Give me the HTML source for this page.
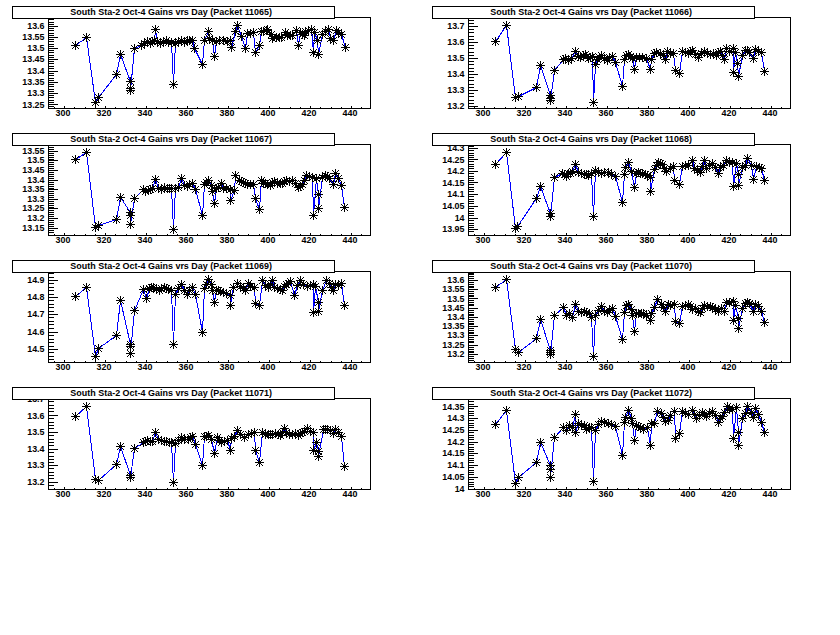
<!DOCTYPE html><html><head><meta charset="utf-8"><style>html,body{margin:0;padding:0;background:#fff;width:840px;height:635px;overflow:hidden}</style></head><body><svg width="840" height="635" viewBox="0 0 840 635" style="position:absolute;left:0;top:0"><rect x="0" y="0" width="840" height="635" fill="#fff"/><defs><g id="m"><path d="M-4 .5h9M.5 -4v9" stroke="#000" stroke-width="1" fill="none"/><path d="M-3 -3h1v1h-1zM-3 3h1v1h-1zM-2 -2h1v1h-1zM-2 2h1v1h-1zM-1 -1h1v1h-1zM-1 1h1v1h-1zM0 0h1v1h-1zM0 0h1v1h-1zM1 1h1v1h-1zM1 -1h1v1h-1zM2 2h1v1h-1zM2 -2h1v1h-1zM3 3h1v1h-1zM3 -3h1v1h-1z" fill="#000"/></g></defs><g shape-rendering="crispEdges"><polyline points="75.5,45.5 86.5,37.5 95.5,102.5 98.5,97.5 116.5,74.5 120.5,54.5 130.5,81.5 130.5,88.5 130.5,90.5 134.5,48.5 141.5,45.5 144.5,43.5 147.5,41.5 150.5,43.5 152.5,41.5 154.5,40.5 155.5,29.5 157.5,41.5 160.5,43.5 163.5,41.5 166.5,40.5 168.5,42.5 171.5,42.5 173.5,84.5 175.5,43.5 178.5,41.5 181.5,40.5 184.5,42.5 187.5,40.5 189.5,40.5 192.5,40.5 194.5,48.5 202.5,64.5 204.5,40.5 208.5,31.5 209.5,38.5 212.5,40.5 214.5,56.5 216.5,41.5 219.5,40.5 223.5,40.5 227.5,41.5 230.5,40.5 231.5,47.5 235.5,31.5 237.5,25.5 241.5,36.5 245.5,48.5 247.5,33.5 250.5,33.5 253.5,32.5 255.5,52.5 259.5,45.5 261.5,31.5 263.5,31.5 266.5,30.5 267.5,29.5 271.5,34.5 272.5,38.5 276.5,37.5 279.5,37.5 281.5,37.5 285.5,32.5 287.5,35.5 290.5,35.5 292.5,35.5 296.5,30.5 298.5,45.5 300.5,32.5 302.5,34.5 304.5,35.5 305.5,31.5 308.5,30.5 311.5,29.5 313.5,52.5 314.5,32.5 317.5,40.5 318.5,54.5 322.5,34.5 325.5,31.5 328.5,29.5 330.5,38.5 333.5,40.5 336.5,30.5 338.5,32.5 341.5,34.5 345.5,47.5" fill="none" stroke="#0000ff" stroke-width="1"/><use href="#m" x="75" y="45"/><use href="#m" x="86" y="37"/><use href="#m" x="95" y="102"/><use href="#m" x="98" y="97"/><use href="#m" x="116" y="74"/><use href="#m" x="120" y="54"/><use href="#m" x="130" y="81"/><use href="#m" x="130" y="88"/><use href="#m" x="130" y="90"/><use href="#m" x="134" y="48"/><use href="#m" x="141" y="45"/><use href="#m" x="144" y="43"/><use href="#m" x="147" y="41"/><use href="#m" x="150" y="43"/><use href="#m" x="152" y="41"/><use href="#m" x="154" y="40"/><use href="#m" x="155" y="29"/><use href="#m" x="157" y="41"/><use href="#m" x="160" y="43"/><use href="#m" x="163" y="41"/><use href="#m" x="166" y="40"/><use href="#m" x="168" y="42"/><use href="#m" x="171" y="42"/><use href="#m" x="173" y="84"/><use href="#m" x="175" y="43"/><use href="#m" x="178" y="41"/><use href="#m" x="181" y="40"/><use href="#m" x="184" y="42"/><use href="#m" x="187" y="40"/><use href="#m" x="189" y="40"/><use href="#m" x="192" y="40"/><use href="#m" x="194" y="48"/><use href="#m" x="202" y="64"/><use href="#m" x="204" y="40"/><use href="#m" x="208" y="31"/><use href="#m" x="209" y="38"/><use href="#m" x="212" y="40"/><use href="#m" x="214" y="56"/><use href="#m" x="216" y="41"/><use href="#m" x="219" y="40"/><use href="#m" x="223" y="40"/><use href="#m" x="227" y="41"/><use href="#m" x="230" y="40"/><use href="#m" x="231" y="47"/><use href="#m" x="235" y="31"/><use href="#m" x="237" y="25"/><use href="#m" x="241" y="36"/><use href="#m" x="245" y="48"/><use href="#m" x="247" y="33"/><use href="#m" x="250" y="33"/><use href="#m" x="253" y="32"/><use href="#m" x="255" y="52"/><use href="#m" x="259" y="45"/><use href="#m" x="261" y="31"/><use href="#m" x="263" y="31"/><use href="#m" x="266" y="30"/><use href="#m" x="267" y="29"/><use href="#m" x="271" y="34"/><use href="#m" x="272" y="38"/><use href="#m" x="276" y="37"/><use href="#m" x="279" y="37"/><use href="#m" x="281" y="37"/><use href="#m" x="285" y="32"/><use href="#m" x="287" y="35"/><use href="#m" x="290" y="35"/><use href="#m" x="292" y="35"/><use href="#m" x="296" y="30"/><use href="#m" x="298" y="45"/><use href="#m" x="300" y="32"/><use href="#m" x="302" y="34"/><use href="#m" x="304" y="35"/><use href="#m" x="305" y="31"/><use href="#m" x="308" y="30"/><use href="#m" x="311" y="29"/><use href="#m" x="313" y="52"/><use href="#m" x="314" y="32"/><use href="#m" x="317" y="40"/><use href="#m" x="318" y="54"/><use href="#m" x="322" y="34"/><use href="#m" x="325" y="31"/><use href="#m" x="328" y="29"/><use href="#m" x="330" y="38"/><use href="#m" x="333" y="40"/><use href="#m" x="336" y="30"/><use href="#m" x="338" y="32"/><use href="#m" x="341" y="34"/><use href="#m" x="345" y="47"/><rect x="48.5" y="17.5" width="322" height="91" fill="none" stroke="#000" stroke-width="1"/><rect x="49" y="26" width="9" height="1" fill="#000"/><text x="44.5" y="29.20" text-anchor="end" font-size="8.9" font-weight="bold" font-family='"Liberation Sans", sans-serif'>13.6</text><rect x="49" y="37" width="9" height="1" fill="#000"/><text x="44.5" y="40.30" text-anchor="end" font-size="8.9" font-weight="bold" font-family='"Liberation Sans", sans-serif'>13.55</text><rect x="49" y="48" width="9" height="1" fill="#000"/><text x="44.5" y="51.20" text-anchor="end" font-size="8.9" font-weight="bold" font-family='"Liberation Sans", sans-serif'>13.5</text><rect x="49" y="59" width="9" height="1" fill="#000"/><text x="44.5" y="62.40" text-anchor="end" font-size="8.9" font-weight="bold" font-family='"Liberation Sans", sans-serif'>13.45</text><rect x="49" y="71" width="9" height="1" fill="#000"/><text x="44.5" y="74.40" text-anchor="end" font-size="8.9" font-weight="bold" font-family='"Liberation Sans", sans-serif'>13.4</text><rect x="49" y="82" width="9" height="1" fill="#000"/><text x="44.5" y="85.30" text-anchor="end" font-size="8.9" font-weight="bold" font-family='"Liberation Sans", sans-serif'>13.35</text><rect x="49" y="93" width="9" height="1" fill="#000"/><text x="44.5" y="96.30" text-anchor="end" font-size="8.9" font-weight="bold" font-family='"Liberation Sans", sans-serif'>13.3</text><rect x="49" y="104" width="9" height="1" fill="#000"/><text x="44.5" y="107.50" text-anchor="end" font-size="8.9" font-weight="bold" font-family='"Liberation Sans", sans-serif'>13.25</text><rect x="49" y="19" width="5" height="1" fill="#000"/><rect x="49" y="22" width="5" height="1" fill="#000"/><rect x="49" y="24" width="5" height="1" fill="#000"/><rect x="49" y="28" width="5" height="1" fill="#000"/><rect x="49" y="30" width="5" height="1" fill="#000"/><rect x="49" y="33" width="5" height="1" fill="#000"/><rect x="49" y="35" width="5" height="1" fill="#000"/><rect x="49" y="39" width="5" height="1" fill="#000"/><rect x="49" y="41" width="5" height="1" fill="#000"/><rect x="49" y="44" width="5" height="1" fill="#000"/><rect x="49" y="46" width="5" height="1" fill="#000"/><rect x="49" y="50" width="5" height="1" fill="#000"/><rect x="49" y="52" width="5" height="1" fill="#000"/><rect x="49" y="55" width="5" height="1" fill="#000"/><rect x="49" y="57" width="5" height="1" fill="#000"/><rect x="49" y="61" width="5" height="1" fill="#000"/><rect x="49" y="63" width="5" height="1" fill="#000"/><rect x="49" y="66" width="5" height="1" fill="#000"/><rect x="49" y="68" width="5" height="1" fill="#000"/><rect x="49" y="73" width="5" height="1" fill="#000"/><rect x="49" y="75" width="5" height="1" fill="#000"/><rect x="49" y="78" width="5" height="1" fill="#000"/><rect x="49" y="80" width="5" height="1" fill="#000"/><rect x="49" y="84" width="5" height="1" fill="#000"/><rect x="49" y="86" width="5" height="1" fill="#000"/><rect x="49" y="89" width="5" height="1" fill="#000"/><rect x="49" y="91" width="5" height="1" fill="#000"/><rect x="49" y="95" width="5" height="1" fill="#000"/><rect x="49" y="97" width="5" height="1" fill="#000"/><rect x="49" y="100" width="5" height="1" fill="#000"/><rect x="49" y="102" width="5" height="1" fill="#000"/><rect x="49" y="106" width="5" height="1" fill="#000"/><rect x="54" y="107" width="1" height="1" fill="#000"/><rect x="64" y="106" width="1" height="2" fill="#000"/><text x="63.0" y="116" text-anchor="middle" font-size="8.9" font-weight="bold" font-family='"Liberation Sans", sans-serif'>300</text><rect x="74" y="107" width="1" height="1" fill="#000"/><rect x="85" y="107" width="1" height="1" fill="#000"/><rect x="95" y="107" width="1" height="1" fill="#000"/><rect x="105" y="106" width="1" height="2" fill="#000"/><text x="104.0" y="116" text-anchor="middle" font-size="8.9" font-weight="bold" font-family='"Liberation Sans", sans-serif'>320</text><rect x="115" y="107" width="1" height="1" fill="#000"/><rect x="126" y="107" width="1" height="1" fill="#000"/><rect x="136" y="107" width="1" height="1" fill="#000"/><rect x="146" y="106" width="1" height="2" fill="#000"/><text x="145.0" y="116" text-anchor="middle" font-size="8.9" font-weight="bold" font-family='"Liberation Sans", sans-serif'>340</text><rect x="156" y="107" width="1" height="1" fill="#000"/><rect x="167" y="107" width="1" height="1" fill="#000"/><rect x="177" y="107" width="1" height="1" fill="#000"/><rect x="187" y="106" width="1" height="2" fill="#000"/><text x="186.0" y="116" text-anchor="middle" font-size="8.9" font-weight="bold" font-family='"Liberation Sans", sans-serif'>360</text><rect x="197" y="107" width="1" height="1" fill="#000"/><rect x="208" y="107" width="1" height="1" fill="#000"/><rect x="218" y="107" width="1" height="1" fill="#000"/><rect x="228" y="106" width="1" height="2" fill="#000"/><text x="227.0" y="116" text-anchor="middle" font-size="8.9" font-weight="bold" font-family='"Liberation Sans", sans-serif'>380</text><rect x="238" y="107" width="1" height="1" fill="#000"/><rect x="248" y="107" width="1" height="1" fill="#000"/><rect x="259" y="107" width="1" height="1" fill="#000"/><rect x="269" y="106" width="1" height="2" fill="#000"/><text x="268.0" y="116" text-anchor="middle" font-size="8.9" font-weight="bold" font-family='"Liberation Sans", sans-serif'>400</text><rect x="279" y="107" width="1" height="1" fill="#000"/><rect x="290" y="107" width="1" height="1" fill="#000"/><rect x="300" y="107" width="1" height="1" fill="#000"/><rect x="310" y="106" width="1" height="2" fill="#000"/><text x="309.0" y="116" text-anchor="middle" font-size="8.9" font-weight="bold" font-family='"Liberation Sans", sans-serif'>420</text><rect x="320" y="107" width="1" height="1" fill="#000"/><rect x="331" y="107" width="1" height="1" fill="#000"/><rect x="341" y="107" width="1" height="1" fill="#000"/><rect x="351" y="106" width="1" height="2" fill="#000"/><text x="350.0" y="116" text-anchor="middle" font-size="8.9" font-weight="bold" font-family='"Liberation Sans", sans-serif'>440</text><rect x="361" y="107" width="1" height="1" fill="#000"/><rect x="12.5" y="6.5" width="322" height="12" fill="#fff" stroke="#000" stroke-width="1"/><text x="171.2" y="15.2" text-anchor="middle" font-size="8.9" font-weight="bold" font-family='"Liberation Sans", sans-serif' textLength="201.7" lengthAdjust="spacingAndGlyphs">South Sta-2 Oct-4 Gains vrs Day (Packet 11065)</text></g><g shape-rendering="crispEdges"><polyline points="495.5,41.5 506.5,25.5 515.5,97.5 518.5,96.5 536.5,87.5 540.5,65.5 550.5,95.5 550.5,98.5 550.5,100.5 554.5,70.5 563.5,59.5 565.5,58.5 568.5,60.5 571.5,58.5 575.5,51.5 578.5,56.5 580.5,57.5 583.5,55.5 585.5,54.5 588.5,58.5 590.5,57.5 592.5,56.5 593.5,102.5 595.5,64.5 597.5,59.5 599.5,57.5 601.5,55.5 604.5,58.5 607.5,60.5 609.5,57.5 612.5,56.5 615.5,62.5 622.5,86.5 624.5,59.5 626.5,55.5 628.5,54.5 630.5,56.5 632.5,58.5 634.5,69.5 636.5,57.5 639.5,57.5 642.5,57.5 646.5,58.5 650.5,69.5 651.5,59.5 654.5,53.5 656.5,52.5 660.5,53.5 663.5,55.5 665.5,59.5 667.5,51.5 670.5,53.5 673.5,53.5 675.5,70.5 679.5,73.5 682.5,51.5 685.5,52.5 688.5,53.5 690.5,51.5 692.5,50.5 695.5,54.5 698.5,57.5 701.5,53.5 704.5,51.5 707.5,53.5 710.5,54.5 713.5,53.5 716.5,55.5 718.5,52.5 720.5,51.5 722.5,55.5 724.5,59.5 726.5,48.5 729.5,51.5 733.5,48.5 733.5,72.5 735.5,52.5 737.5,63.5 738.5,76.5 742.5,55.5 745.5,50.5 747.5,50.5 749.5,52.5 753.5,58.5 755.5,49.5 758.5,51.5 761.5,52.5 764.5,71.5" fill="none" stroke="#0000ff" stroke-width="1"/><use href="#m" x="495" y="41"/><use href="#m" x="506" y="25"/><use href="#m" x="515" y="97"/><use href="#m" x="518" y="96"/><use href="#m" x="536" y="87"/><use href="#m" x="540" y="65"/><use href="#m" x="550" y="95"/><use href="#m" x="550" y="98"/><use href="#m" x="550" y="100"/><use href="#m" x="554" y="70"/><use href="#m" x="563" y="59"/><use href="#m" x="565" y="58"/><use href="#m" x="568" y="60"/><use href="#m" x="571" y="58"/><use href="#m" x="575" y="51"/><use href="#m" x="578" y="56"/><use href="#m" x="580" y="57"/><use href="#m" x="583" y="55"/><use href="#m" x="585" y="54"/><use href="#m" x="588" y="58"/><use href="#m" x="590" y="57"/><use href="#m" x="592" y="56"/><use href="#m" x="593" y="102"/><use href="#m" x="595" y="64"/><use href="#m" x="597" y="59"/><use href="#m" x="599" y="57"/><use href="#m" x="601" y="55"/><use href="#m" x="604" y="58"/><use href="#m" x="607" y="60"/><use href="#m" x="609" y="57"/><use href="#m" x="612" y="56"/><use href="#m" x="615" y="62"/><use href="#m" x="622" y="86"/><use href="#m" x="624" y="59"/><use href="#m" x="626" y="55"/><use href="#m" x="628" y="54"/><use href="#m" x="630" y="56"/><use href="#m" x="632" y="58"/><use href="#m" x="634" y="69"/><use href="#m" x="636" y="57"/><use href="#m" x="639" y="57"/><use href="#m" x="642" y="57"/><use href="#m" x="646" y="58"/><use href="#m" x="650" y="69"/><use href="#m" x="651" y="59"/><use href="#m" x="654" y="53"/><use href="#m" x="656" y="52"/><use href="#m" x="660" y="53"/><use href="#m" x="663" y="55"/><use href="#m" x="665" y="59"/><use href="#m" x="667" y="51"/><use href="#m" x="670" y="53"/><use href="#m" x="673" y="53"/><use href="#m" x="675" y="70"/><use href="#m" x="679" y="73"/><use href="#m" x="682" y="51"/><use href="#m" x="685" y="52"/><use href="#m" x="688" y="53"/><use href="#m" x="690" y="51"/><use href="#m" x="692" y="50"/><use href="#m" x="695" y="54"/><use href="#m" x="698" y="57"/><use href="#m" x="701" y="53"/><use href="#m" x="704" y="51"/><use href="#m" x="707" y="53"/><use href="#m" x="710" y="54"/><use href="#m" x="713" y="53"/><use href="#m" x="716" y="55"/><use href="#m" x="718" y="52"/><use href="#m" x="720" y="51"/><use href="#m" x="722" y="55"/><use href="#m" x="724" y="59"/><use href="#m" x="726" y="48"/><use href="#m" x="729" y="51"/><use href="#m" x="733" y="48"/><use href="#m" x="733" y="72"/><use href="#m" x="735" y="52"/><use href="#m" x="737" y="63"/><use href="#m" x="738" y="76"/><use href="#m" x="742" y="55"/><use href="#m" x="745" y="50"/><use href="#m" x="747" y="50"/><use href="#m" x="749" y="52"/><use href="#m" x="753" y="58"/><use href="#m" x="755" y="49"/><use href="#m" x="758" y="51"/><use href="#m" x="761" y="52"/><use href="#m" x="764" y="71"/><rect x="468.5" y="17.5" width="322" height="91" fill="none" stroke="#000" stroke-width="1"/><rect x="469" y="26" width="9" height="1" fill="#000"/><text x="464.5" y="29.20" text-anchor="end" font-size="8.9" font-weight="bold" font-family='"Liberation Sans", sans-serif'>13.7</text><rect x="469" y="42" width="9" height="1" fill="#000"/><text x="464.5" y="45.40" text-anchor="end" font-size="8.9" font-weight="bold" font-family='"Liberation Sans", sans-serif'>13.6</text><rect x="469" y="58" width="9" height="1" fill="#000"/><text x="464.5" y="61.40" text-anchor="end" font-size="8.9" font-weight="bold" font-family='"Liberation Sans", sans-serif'>13.5</text><rect x="469" y="74" width="9" height="1" fill="#000"/><text x="464.5" y="77.40" text-anchor="end" font-size="8.9" font-weight="bold" font-family='"Liberation Sans", sans-serif'>13.4</text><rect x="469" y="90" width="9" height="1" fill="#000"/><text x="464.5" y="93.30" text-anchor="end" font-size="8.9" font-weight="bold" font-family='"Liberation Sans", sans-serif'>13.3</text><rect x="469" y="106" width="9" height="1" fill="#000"/><text x="464.5" y="109.30" text-anchor="end" font-size="8.9" font-weight="bold" font-family='"Liberation Sans", sans-serif'>13.2</text><rect x="469" y="20" width="5" height="1" fill="#000"/><rect x="469" y="23" width="5" height="1" fill="#000"/><rect x="469" y="29" width="5" height="1" fill="#000"/><rect x="469" y="32" width="5" height="1" fill="#000"/><rect x="469" y="36" width="5" height="1" fill="#000"/><rect x="469" y="39" width="5" height="1" fill="#000"/><rect x="469" y="45" width="5" height="1" fill="#000"/><rect x="469" y="48" width="5" height="1" fill="#000"/><rect x="469" y="52" width="5" height="1" fill="#000"/><rect x="469" y="55" width="5" height="1" fill="#000"/><rect x="469" y="61" width="5" height="1" fill="#000"/><rect x="469" y="64" width="5" height="1" fill="#000"/><rect x="469" y="68" width="5" height="1" fill="#000"/><rect x="469" y="71" width="5" height="1" fill="#000"/><rect x="469" y="77" width="5" height="1" fill="#000"/><rect x="469" y="80" width="5" height="1" fill="#000"/><rect x="469" y="84" width="5" height="1" fill="#000"/><rect x="469" y="87" width="5" height="1" fill="#000"/><rect x="469" y="93" width="5" height="1" fill="#000"/><rect x="469" y="96" width="5" height="1" fill="#000"/><rect x="469" y="100" width="5" height="1" fill="#000"/><rect x="469" y="103" width="5" height="1" fill="#000"/><rect x="474" y="107" width="1" height="1" fill="#000"/><rect x="484" y="106" width="1" height="2" fill="#000"/><text x="483.0" y="116" text-anchor="middle" font-size="8.9" font-weight="bold" font-family='"Liberation Sans", sans-serif'>300</text><rect x="494" y="107" width="1" height="1" fill="#000"/><rect x="505" y="107" width="1" height="1" fill="#000"/><rect x="515" y="107" width="1" height="1" fill="#000"/><rect x="525" y="106" width="1" height="2" fill="#000"/><text x="524.0" y="116" text-anchor="middle" font-size="8.9" font-weight="bold" font-family='"Liberation Sans", sans-serif'>320</text><rect x="535" y="107" width="1" height="1" fill="#000"/><rect x="546" y="107" width="1" height="1" fill="#000"/><rect x="556" y="107" width="1" height="1" fill="#000"/><rect x="566" y="106" width="1" height="2" fill="#000"/><text x="565.0" y="116" text-anchor="middle" font-size="8.9" font-weight="bold" font-family='"Liberation Sans", sans-serif'>340</text><rect x="576" y="107" width="1" height="1" fill="#000"/><rect x="587" y="107" width="1" height="1" fill="#000"/><rect x="597" y="107" width="1" height="1" fill="#000"/><rect x="607" y="106" width="1" height="2" fill="#000"/><text x="606.0" y="116" text-anchor="middle" font-size="8.9" font-weight="bold" font-family='"Liberation Sans", sans-serif'>360</text><rect x="617" y="107" width="1" height="1" fill="#000"/><rect x="628" y="107" width="1" height="1" fill="#000"/><rect x="638" y="107" width="1" height="1" fill="#000"/><rect x="648" y="106" width="1" height="2" fill="#000"/><text x="647.0" y="116" text-anchor="middle" font-size="8.9" font-weight="bold" font-family='"Liberation Sans", sans-serif'>380</text><rect x="658" y="107" width="1" height="1" fill="#000"/><rect x="669" y="107" width="1" height="1" fill="#000"/><rect x="679" y="107" width="1" height="1" fill="#000"/><rect x="689" y="106" width="1" height="2" fill="#000"/><text x="688.0" y="116" text-anchor="middle" font-size="8.9" font-weight="bold" font-family='"Liberation Sans", sans-serif'>400</text><rect x="699" y="107" width="1" height="1" fill="#000"/><rect x="710" y="107" width="1" height="1" fill="#000"/><rect x="720" y="107" width="1" height="1" fill="#000"/><rect x="730" y="106" width="1" height="2" fill="#000"/><text x="729.0" y="116" text-anchor="middle" font-size="8.9" font-weight="bold" font-family='"Liberation Sans", sans-serif'>420</text><rect x="740" y="107" width="1" height="1" fill="#000"/><rect x="751" y="107" width="1" height="1" fill="#000"/><rect x="761" y="107" width="1" height="1" fill="#000"/><rect x="771" y="106" width="1" height="2" fill="#000"/><text x="770.0" y="116" text-anchor="middle" font-size="8.9" font-weight="bold" font-family='"Liberation Sans", sans-serif'>440</text><rect x="781" y="107" width="1" height="1" fill="#000"/><rect x="432.5" y="6.5" width="322" height="12" fill="#fff" stroke="#000" stroke-width="1"/><text x="591.2" y="15.2" text-anchor="middle" font-size="8.9" font-weight="bold" font-family='"Liberation Sans", sans-serif' textLength="201.7" lengthAdjust="spacingAndGlyphs">South Sta-2 Oct-4 Gains vrs Day (Packet 11066)</text></g><g shape-rendering="crispEdges"><polyline points="75.5,159.5 86.5,152.5 95.5,227.5 98.5,225.5 116.5,219.5 120.5,197.5 130.5,212.5 130.5,215.5 130.5,224.5 134.5,198.5 143.5,189.5 145.5,191.5 148.5,190.5 150.5,189.5 152.5,188.5 155.5,179.5 158.5,188.5 161.5,189.5 164.5,187.5 167.5,188.5 169.5,188.5 171.5,188.5 173.5,229.5 175.5,188.5 178.5,187.5 181.5,178.5 184.5,185.5 187.5,186.5 189.5,184.5 192.5,183.5 195.5,189.5 202.5,215.5 204.5,184.5 206.5,182.5 208.5,180.5 211.5,185.5 212.5,191.5 214.5,203.5 216.5,188.5 218.5,187.5 221.5,183.5 223.5,188.5 226.5,188.5 230.5,189.5 230.5,200.5 234.5,190.5 235.5,175.5 239.5,180.5 241.5,181.5 243.5,182.5 245.5,183.5 247.5,184.5 250.5,184.5 253.5,184.5 255.5,198.5 259.5,209.5 261.5,180.5 263.5,183.5 265.5,183.5 267.5,184.5 270.5,185.5 272.5,182.5 274.5,181.5 277.5,183.5 280.5,183.5 282.5,183.5 284.5,181.5 286.5,180.5 289.5,181.5 292.5,180.5 295.5,183.5 298.5,187.5 300.5,186.5 302.5,184.5 304.5,180.5 306.5,175.5 309.5,176.5 312.5,177.5 313.5,215.5 316.5,178.5 318.5,194.5 318.5,208.5 322.5,177.5 325.5,175.5 327.5,176.5 329.5,178.5 333.5,184.5 335.5,173.5 338.5,178.5 341.5,185.5 344.5,207.5" fill="none" stroke="#0000ff" stroke-width="1"/><use href="#m" x="75" y="159"/><use href="#m" x="86" y="152"/><use href="#m" x="95" y="227"/><use href="#m" x="98" y="225"/><use href="#m" x="116" y="219"/><use href="#m" x="120" y="197"/><use href="#m" x="130" y="212"/><use href="#m" x="130" y="215"/><use href="#m" x="130" y="224"/><use href="#m" x="134" y="198"/><use href="#m" x="143" y="189"/><use href="#m" x="145" y="191"/><use href="#m" x="148" y="190"/><use href="#m" x="150" y="189"/><use href="#m" x="152" y="188"/><use href="#m" x="155" y="179"/><use href="#m" x="158" y="188"/><use href="#m" x="161" y="189"/><use href="#m" x="164" y="187"/><use href="#m" x="167" y="188"/><use href="#m" x="169" y="188"/><use href="#m" x="171" y="188"/><use href="#m" x="173" y="229"/><use href="#m" x="175" y="188"/><use href="#m" x="178" y="187"/><use href="#m" x="181" y="178"/><use href="#m" x="184" y="185"/><use href="#m" x="187" y="186"/><use href="#m" x="189" y="184"/><use href="#m" x="192" y="183"/><use href="#m" x="195" y="189"/><use href="#m" x="202" y="215"/><use href="#m" x="204" y="184"/><use href="#m" x="206" y="182"/><use href="#m" x="208" y="180"/><use href="#m" x="211" y="185"/><use href="#m" x="212" y="191"/><use href="#m" x="214" y="203"/><use href="#m" x="216" y="188"/><use href="#m" x="218" y="187"/><use href="#m" x="221" y="183"/><use href="#m" x="223" y="188"/><use href="#m" x="226" y="188"/><use href="#m" x="230" y="189"/><use href="#m" x="230" y="200"/><use href="#m" x="234" y="190"/><use href="#m" x="235" y="175"/><use href="#m" x="239" y="180"/><use href="#m" x="241" y="181"/><use href="#m" x="243" y="182"/><use href="#m" x="245" y="183"/><use href="#m" x="247" y="184"/><use href="#m" x="250" y="184"/><use href="#m" x="253" y="184"/><use href="#m" x="255" y="198"/><use href="#m" x="259" y="209"/><use href="#m" x="261" y="180"/><use href="#m" x="263" y="183"/><use href="#m" x="265" y="183"/><use href="#m" x="267" y="184"/><use href="#m" x="270" y="185"/><use href="#m" x="272" y="182"/><use href="#m" x="274" y="181"/><use href="#m" x="277" y="183"/><use href="#m" x="280" y="183"/><use href="#m" x="282" y="183"/><use href="#m" x="284" y="181"/><use href="#m" x="286" y="180"/><use href="#m" x="289" y="181"/><use href="#m" x="292" y="180"/><use href="#m" x="295" y="183"/><use href="#m" x="298" y="187"/><use href="#m" x="300" y="186"/><use href="#m" x="302" y="184"/><use href="#m" x="304" y="180"/><use href="#m" x="306" y="175"/><use href="#m" x="309" y="176"/><use href="#m" x="312" y="177"/><use href="#m" x="313" y="215"/><use href="#m" x="316" y="178"/><use href="#m" x="318" y="194"/><use href="#m" x="318" y="208"/><use href="#m" x="322" y="177"/><use href="#m" x="325" y="175"/><use href="#m" x="327" y="176"/><use href="#m" x="329" y="178"/><use href="#m" x="333" y="184"/><use href="#m" x="335" y="173"/><use href="#m" x="338" y="178"/><use href="#m" x="341" y="185"/><use href="#m" x="344" y="207"/><rect x="48.5" y="144.5" width="322" height="91" fill="none" stroke="#000" stroke-width="1"/><rect x="49" y="151" width="9" height="1" fill="#000"/><text x="44.5" y="154.30" text-anchor="end" font-size="8.9" font-weight="bold" font-family='"Liberation Sans", sans-serif'>13.55</text><rect x="49" y="160" width="9" height="1" fill="#000"/><text x="44.5" y="163.40" text-anchor="end" font-size="8.9" font-weight="bold" font-family='"Liberation Sans", sans-serif'>13.5</text><rect x="49" y="170" width="9" height="1" fill="#000"/><text x="44.5" y="173.10" text-anchor="end" font-size="8.9" font-weight="bold" font-family='"Liberation Sans", sans-serif'>13.45</text><rect x="49" y="180" width="9" height="1" fill="#000"/><text x="44.5" y="183.20" text-anchor="end" font-size="8.9" font-weight="bold" font-family='"Liberation Sans", sans-serif'>13.4</text><rect x="49" y="189" width="9" height="1" fill="#000"/><text x="44.5" y="192.30" text-anchor="end" font-size="8.9" font-weight="bold" font-family='"Liberation Sans", sans-serif'>13.35</text><rect x="49" y="199" width="9" height="1" fill="#000"/><text x="44.5" y="202.20" text-anchor="end" font-size="8.9" font-weight="bold" font-family='"Liberation Sans", sans-serif'>13.3</text><rect x="49" y="208" width="9" height="1" fill="#000"/><text x="44.5" y="211.00" text-anchor="end" font-size="8.9" font-weight="bold" font-family='"Liberation Sans", sans-serif'>13.25</text><rect x="49" y="218" width="9" height="1" fill="#000"/><text x="44.5" y="221.00" text-anchor="end" font-size="8.9" font-weight="bold" font-family='"Liberation Sans", sans-serif'>13.2</text><rect x="49" y="228" width="9" height="1" fill="#000"/><text x="44.5" y="231.30" text-anchor="end" font-size="8.9" font-weight="bold" font-family='"Liberation Sans", sans-serif'>13.15</text><rect x="49" y="145" width="5" height="1" fill="#000"/><rect x="49" y="147" width="5" height="1" fill="#000"/><rect x="49" y="149" width="5" height="1" fill="#000"/><rect x="49" y="153" width="5" height="1" fill="#000"/><rect x="49" y="155" width="5" height="1" fill="#000"/><rect x="49" y="157" width="5" height="1" fill="#000"/><rect x="49" y="159" width="5" height="1" fill="#000"/><rect x="49" y="162" width="5" height="1" fill="#000"/><rect x="49" y="164" width="5" height="1" fill="#000"/><rect x="49" y="166" width="5" height="1" fill="#000"/><rect x="49" y="168" width="5" height="1" fill="#000"/><rect x="49" y="172" width="5" height="1" fill="#000"/><rect x="49" y="174" width="5" height="1" fill="#000"/><rect x="49" y="176" width="5" height="1" fill="#000"/><rect x="49" y="178" width="5" height="1" fill="#000"/><rect x="49" y="182" width="5" height="1" fill="#000"/><rect x="49" y="184" width="5" height="1" fill="#000"/><rect x="49" y="186" width="5" height="1" fill="#000"/><rect x="49" y="188" width="5" height="1" fill="#000"/><rect x="49" y="191" width="5" height="1" fill="#000"/><rect x="49" y="193" width="5" height="1" fill="#000"/><rect x="49" y="195" width="5" height="1" fill="#000"/><rect x="49" y="197" width="5" height="1" fill="#000"/><rect x="49" y="201" width="5" height="1" fill="#000"/><rect x="49" y="203" width="5" height="1" fill="#000"/><rect x="49" y="205" width="5" height="1" fill="#000"/><rect x="49" y="207" width="5" height="1" fill="#000"/><rect x="49" y="210" width="5" height="1" fill="#000"/><rect x="49" y="212" width="5" height="1" fill="#000"/><rect x="49" y="214" width="5" height="1" fill="#000"/><rect x="49" y="216" width="5" height="1" fill="#000"/><rect x="49" y="220" width="5" height="1" fill="#000"/><rect x="49" y="222" width="5" height="1" fill="#000"/><rect x="49" y="224" width="5" height="1" fill="#000"/><rect x="49" y="226" width="5" height="1" fill="#000"/><rect x="49" y="230" width="5" height="1" fill="#000"/><rect x="49" y="232" width="5" height="1" fill="#000"/><rect x="54" y="234" width="1" height="1" fill="#000"/><rect x="64" y="233" width="1" height="2" fill="#000"/><text x="63.0" y="243" text-anchor="middle" font-size="8.9" font-weight="bold" font-family='"Liberation Sans", sans-serif'>300</text><rect x="74" y="234" width="1" height="1" fill="#000"/><rect x="85" y="234" width="1" height="1" fill="#000"/><rect x="95" y="234" width="1" height="1" fill="#000"/><rect x="105" y="233" width="1" height="2" fill="#000"/><text x="104.0" y="243" text-anchor="middle" font-size="8.9" font-weight="bold" font-family='"Liberation Sans", sans-serif'>320</text><rect x="115" y="234" width="1" height="1" fill="#000"/><rect x="126" y="234" width="1" height="1" fill="#000"/><rect x="136" y="234" width="1" height="1" fill="#000"/><rect x="146" y="233" width="1" height="2" fill="#000"/><text x="145.0" y="243" text-anchor="middle" font-size="8.9" font-weight="bold" font-family='"Liberation Sans", sans-serif'>340</text><rect x="156" y="234" width="1" height="1" fill="#000"/><rect x="167" y="234" width="1" height="1" fill="#000"/><rect x="177" y="234" width="1" height="1" fill="#000"/><rect x="187" y="233" width="1" height="2" fill="#000"/><text x="186.0" y="243" text-anchor="middle" font-size="8.9" font-weight="bold" font-family='"Liberation Sans", sans-serif'>360</text><rect x="197" y="234" width="1" height="1" fill="#000"/><rect x="208" y="234" width="1" height="1" fill="#000"/><rect x="218" y="234" width="1" height="1" fill="#000"/><rect x="228" y="233" width="1" height="2" fill="#000"/><text x="227.0" y="243" text-anchor="middle" font-size="8.9" font-weight="bold" font-family='"Liberation Sans", sans-serif'>380</text><rect x="238" y="234" width="1" height="1" fill="#000"/><rect x="248" y="234" width="1" height="1" fill="#000"/><rect x="259" y="234" width="1" height="1" fill="#000"/><rect x="269" y="233" width="1" height="2" fill="#000"/><text x="268.0" y="243" text-anchor="middle" font-size="8.9" font-weight="bold" font-family='"Liberation Sans", sans-serif'>400</text><rect x="279" y="234" width="1" height="1" fill="#000"/><rect x="290" y="234" width="1" height="1" fill="#000"/><rect x="300" y="234" width="1" height="1" fill="#000"/><rect x="310" y="233" width="1" height="2" fill="#000"/><text x="309.0" y="243" text-anchor="middle" font-size="8.9" font-weight="bold" font-family='"Liberation Sans", sans-serif'>420</text><rect x="320" y="234" width="1" height="1" fill="#000"/><rect x="331" y="234" width="1" height="1" fill="#000"/><rect x="341" y="234" width="1" height="1" fill="#000"/><rect x="351" y="233" width="1" height="2" fill="#000"/><text x="350.0" y="243" text-anchor="middle" font-size="8.9" font-weight="bold" font-family='"Liberation Sans", sans-serif'>440</text><rect x="361" y="234" width="1" height="1" fill="#000"/><rect x="12.5" y="133.5" width="322" height="12" fill="#fff" stroke="#000" stroke-width="1"/><text x="171.2" y="142.2" text-anchor="middle" font-size="8.9" font-weight="bold" font-family='"Liberation Sans", sans-serif' textLength="201.7" lengthAdjust="spacingAndGlyphs">South Sta-2 Oct-4 Gains vrs Day (Packet 11067)</text></g><g shape-rendering="crispEdges"><polyline points="495.5,164.5 506.5,152.5 515.5,228.5 517.5,226.5 536.5,198.5 540.5,186.5 550.5,213.5 550.5,216.5 554.5,177.5 562.5,173.5 564.5,174.5 566.5,176.5 568.5,173.5 570.5,173.5 572.5,171.5 575.5,164.5 578.5,172.5 581.5,173.5 584.5,174.5 586.5,174.5 588.5,175.5 591.5,173.5 593.5,216.5 595.5,170.5 598.5,172.5 601.5,173.5 604.5,172.5 608.5,172.5 611.5,174.5 615.5,176.5 622.5,202.5 624.5,174.5 625.5,167.5 628.5,162.5 631.5,171.5 634.5,187.5 636.5,173.5 638.5,172.5 640.5,173.5 642.5,173.5 645.5,174.5 647.5,175.5 650.5,177.5 650.5,191.5 654.5,169.5 656.5,165.5 658.5,162.5 660.5,163.5 662.5,164.5 664.5,168.5 666.5,171.5 670.5,168.5 673.5,166.5 674.5,180.5 679.5,184.5 682.5,166.5 685.5,165.5 688.5,165.5 692.5,160.5 694.5,168.5 697.5,170.5 700.5,172.5 702.5,166.5 704.5,160.5 706.5,168.5 709.5,165.5 712.5,163.5 715.5,167.5 718.5,173.5 720.5,167.5 723.5,165.5 726.5,160.5 729.5,162.5 732.5,162.5 733.5,186.5 736.5,163.5 738.5,174.5 738.5,185.5 742.5,167.5 745.5,165.5 747.5,158.5 751.5,165.5 753.5,179.5 756.5,166.5 759.5,167.5 761.5,168.5 764.5,180.5" fill="none" stroke="#0000ff" stroke-width="1"/><use href="#m" x="495" y="164"/><use href="#m" x="506" y="152"/><use href="#m" x="515" y="228"/><use href="#m" x="517" y="226"/><use href="#m" x="536" y="198"/><use href="#m" x="540" y="186"/><use href="#m" x="550" y="213"/><use href="#m" x="550" y="216"/><use href="#m" x="554" y="177"/><use href="#m" x="562" y="173"/><use href="#m" x="564" y="174"/><use href="#m" x="566" y="176"/><use href="#m" x="568" y="173"/><use href="#m" x="570" y="173"/><use href="#m" x="572" y="171"/><use href="#m" x="575" y="164"/><use href="#m" x="578" y="172"/><use href="#m" x="581" y="173"/><use href="#m" x="584" y="174"/><use href="#m" x="586" y="174"/><use href="#m" x="588" y="175"/><use href="#m" x="591" y="173"/><use href="#m" x="593" y="216"/><use href="#m" x="595" y="170"/><use href="#m" x="598" y="172"/><use href="#m" x="601" y="173"/><use href="#m" x="604" y="172"/><use href="#m" x="608" y="172"/><use href="#m" x="611" y="174"/><use href="#m" x="615" y="176"/><use href="#m" x="622" y="202"/><use href="#m" x="624" y="174"/><use href="#m" x="625" y="167"/><use href="#m" x="628" y="162"/><use href="#m" x="631" y="171"/><use href="#m" x="634" y="187"/><use href="#m" x="636" y="173"/><use href="#m" x="638" y="172"/><use href="#m" x="640" y="173"/><use href="#m" x="642" y="173"/><use href="#m" x="645" y="174"/><use href="#m" x="647" y="175"/><use href="#m" x="650" y="177"/><use href="#m" x="650" y="191"/><use href="#m" x="654" y="169"/><use href="#m" x="656" y="165"/><use href="#m" x="658" y="162"/><use href="#m" x="660" y="163"/><use href="#m" x="662" y="164"/><use href="#m" x="664" y="168"/><use href="#m" x="666" y="171"/><use href="#m" x="670" y="168"/><use href="#m" x="673" y="166"/><use href="#m" x="674" y="180"/><use href="#m" x="679" y="184"/><use href="#m" x="682" y="166"/><use href="#m" x="685" y="165"/><use href="#m" x="688" y="165"/><use href="#m" x="692" y="160"/><use href="#m" x="694" y="168"/><use href="#m" x="697" y="170"/><use href="#m" x="700" y="172"/><use href="#m" x="702" y="166"/><use href="#m" x="704" y="160"/><use href="#m" x="706" y="168"/><use href="#m" x="709" y="165"/><use href="#m" x="712" y="163"/><use href="#m" x="715" y="167"/><use href="#m" x="718" y="173"/><use href="#m" x="720" y="167"/><use href="#m" x="723" y="165"/><use href="#m" x="726" y="160"/><use href="#m" x="729" y="162"/><use href="#m" x="732" y="162"/><use href="#m" x="733" y="186"/><use href="#m" x="736" y="163"/><use href="#m" x="738" y="174"/><use href="#m" x="738" y="185"/><use href="#m" x="742" y="167"/><use href="#m" x="745" y="165"/><use href="#m" x="747" y="158"/><use href="#m" x="751" y="165"/><use href="#m" x="753" y="179"/><use href="#m" x="756" y="166"/><use href="#m" x="759" y="167"/><use href="#m" x="761" y="168"/><use href="#m" x="764" y="180"/><rect x="468.5" y="144.5" width="322" height="91" fill="none" stroke="#000" stroke-width="1"/><rect x="469" y="148" width="9" height="1" fill="#000"/><text x="464.5" y="151.30" text-anchor="end" font-size="8.9" font-weight="bold" font-family='"Liberation Sans", sans-serif'>14.3</text><rect x="469" y="159" width="9" height="1" fill="#000"/><text x="464.5" y="162.50" text-anchor="end" font-size="8.9" font-weight="bold" font-family='"Liberation Sans", sans-serif'>14.25</text><rect x="469" y="171" width="9" height="1" fill="#000"/><text x="464.5" y="174.20" text-anchor="end" font-size="8.9" font-weight="bold" font-family='"Liberation Sans", sans-serif'>14.2</text><rect x="469" y="182" width="9" height="1" fill="#000"/><text x="464.5" y="185.90" text-anchor="end" font-size="8.9" font-weight="bold" font-family='"Liberation Sans", sans-serif'>14.15</text><rect x="469" y="194" width="9" height="1" fill="#000"/><text x="464.5" y="197.40" text-anchor="end" font-size="8.9" font-weight="bold" font-family='"Liberation Sans", sans-serif'>14.1</text><rect x="469" y="206" width="9" height="1" fill="#000"/><text x="464.5" y="209.00" text-anchor="end" font-size="8.9" font-weight="bold" font-family='"Liberation Sans", sans-serif'>14.05</text><rect x="469" y="218" width="9" height="1" fill="#000"/><text x="464.5" y="221.00" text-anchor="end" font-size="8.9" font-weight="bold" font-family='"Liberation Sans", sans-serif'>14</text><rect x="469" y="229" width="9" height="1" fill="#000"/><text x="464.5" y="232.20" text-anchor="end" font-size="8.9" font-weight="bold" font-family='"Liberation Sans", sans-serif'>13.95</text><rect x="469" y="146" width="5" height="1" fill="#000"/><rect x="469" y="150" width="5" height="1" fill="#000"/><rect x="469" y="153" width="5" height="1" fill="#000"/><rect x="469" y="155" width="5" height="1" fill="#000"/><rect x="469" y="157" width="5" height="1" fill="#000"/><rect x="469" y="161" width="5" height="1" fill="#000"/><rect x="469" y="164" width="5" height="1" fill="#000"/><rect x="469" y="166" width="5" height="1" fill="#000"/><rect x="469" y="168" width="5" height="1" fill="#000"/><rect x="469" y="173" width="5" height="1" fill="#000"/><rect x="469" y="176" width="5" height="1" fill="#000"/><rect x="469" y="178" width="5" height="1" fill="#000"/><rect x="469" y="180" width="5" height="1" fill="#000"/><rect x="469" y="184" width="5" height="1" fill="#000"/><rect x="469" y="187" width="5" height="1" fill="#000"/><rect x="469" y="189" width="5" height="1" fill="#000"/><rect x="469" y="191" width="5" height="1" fill="#000"/><rect x="469" y="196" width="5" height="1" fill="#000"/><rect x="469" y="199" width="5" height="1" fill="#000"/><rect x="469" y="201" width="5" height="1" fill="#000"/><rect x="469" y="203" width="5" height="1" fill="#000"/><rect x="469" y="208" width="5" height="1" fill="#000"/><rect x="469" y="211" width="5" height="1" fill="#000"/><rect x="469" y="213" width="5" height="1" fill="#000"/><rect x="469" y="215" width="5" height="1" fill="#000"/><rect x="469" y="220" width="5" height="1" fill="#000"/><rect x="469" y="223" width="5" height="1" fill="#000"/><rect x="469" y="225" width="5" height="1" fill="#000"/><rect x="469" y="227" width="5" height="1" fill="#000"/><rect x="469" y="231" width="5" height="1" fill="#000"/><rect x="474" y="234" width="1" height="1" fill="#000"/><rect x="484" y="233" width="1" height="2" fill="#000"/><text x="483.0" y="243" text-anchor="middle" font-size="8.9" font-weight="bold" font-family='"Liberation Sans", sans-serif'>300</text><rect x="494" y="234" width="1" height="1" fill="#000"/><rect x="505" y="234" width="1" height="1" fill="#000"/><rect x="515" y="234" width="1" height="1" fill="#000"/><rect x="525" y="233" width="1" height="2" fill="#000"/><text x="524.0" y="243" text-anchor="middle" font-size="8.9" font-weight="bold" font-family='"Liberation Sans", sans-serif'>320</text><rect x="535" y="234" width="1" height="1" fill="#000"/><rect x="546" y="234" width="1" height="1" fill="#000"/><rect x="556" y="234" width="1" height="1" fill="#000"/><rect x="566" y="233" width="1" height="2" fill="#000"/><text x="565.0" y="243" text-anchor="middle" font-size="8.9" font-weight="bold" font-family='"Liberation Sans", sans-serif'>340</text><rect x="576" y="234" width="1" height="1" fill="#000"/><rect x="587" y="234" width="1" height="1" fill="#000"/><rect x="597" y="234" width="1" height="1" fill="#000"/><rect x="607" y="233" width="1" height="2" fill="#000"/><text x="606.0" y="243" text-anchor="middle" font-size="8.9" font-weight="bold" font-family='"Liberation Sans", sans-serif'>360</text><rect x="617" y="234" width="1" height="1" fill="#000"/><rect x="628" y="234" width="1" height="1" fill="#000"/><rect x="638" y="234" width="1" height="1" fill="#000"/><rect x="648" y="233" width="1" height="2" fill="#000"/><text x="647.0" y="243" text-anchor="middle" font-size="8.9" font-weight="bold" font-family='"Liberation Sans", sans-serif'>380</text><rect x="658" y="234" width="1" height="1" fill="#000"/><rect x="669" y="234" width="1" height="1" fill="#000"/><rect x="679" y="234" width="1" height="1" fill="#000"/><rect x="689" y="233" width="1" height="2" fill="#000"/><text x="688.0" y="243" text-anchor="middle" font-size="8.9" font-weight="bold" font-family='"Liberation Sans", sans-serif'>400</text><rect x="699" y="234" width="1" height="1" fill="#000"/><rect x="710" y="234" width="1" height="1" fill="#000"/><rect x="720" y="234" width="1" height="1" fill="#000"/><rect x="730" y="233" width="1" height="2" fill="#000"/><text x="729.0" y="243" text-anchor="middle" font-size="8.9" font-weight="bold" font-family='"Liberation Sans", sans-serif'>420</text><rect x="740" y="234" width="1" height="1" fill="#000"/><rect x="751" y="234" width="1" height="1" fill="#000"/><rect x="761" y="234" width="1" height="1" fill="#000"/><rect x="771" y="233" width="1" height="2" fill="#000"/><text x="770.0" y="243" text-anchor="middle" font-size="8.9" font-weight="bold" font-family='"Liberation Sans", sans-serif'>440</text><rect x="781" y="234" width="1" height="1" fill="#000"/><rect x="432.5" y="133.5" width="322" height="12" fill="#fff" stroke="#000" stroke-width="1"/><text x="591.2" y="142.2" text-anchor="middle" font-size="8.9" font-weight="bold" font-family='"Liberation Sans", sans-serif' textLength="201.7" lengthAdjust="spacingAndGlyphs">South Sta-2 Oct-4 Gains vrs Day (Packet 11068)</text></g><g shape-rendering="crispEdges"><polyline points="75.5,296.5 86.5,287.5 95.5,356.5 98.5,348.5 116.5,335.5 120.5,300.5 130.5,344.5 130.5,346.5 130.5,353.5 134.5,310.5 143.5,289.5 146.5,298.5 149.5,288.5 151.5,287.5 153.5,287.5 156.5,289.5 159.5,290.5 161.5,288.5 164.5,287.5 166.5,288.5 168.5,289.5 171.5,290.5 173.5,344.5 175.5,294.5 178.5,288.5 181.5,284.5 184.5,290.5 187.5,294.5 189.5,290.5 192.5,287.5 195.5,294.5 202.5,332.5 204.5,288.5 206.5,284.5 208.5,279.5 211.5,284.5 212.5,290.5 214.5,302.5 216.5,290.5 218.5,290.5 220.5,291.5 223.5,292.5 226.5,293.5 230.5,295.5 230.5,305.5 233.5,287.5 237.5,283.5 240.5,286.5 243.5,288.5 245.5,290.5 248.5,283.5 250.5,286.5 254.5,287.5 255.5,303.5 259.5,305.5 262.5,280.5 265.5,285.5 268.5,287.5 270.5,284.5 272.5,280.5 274.5,287.5 277.5,288.5 280.5,289.5 282.5,290.5 284.5,286.5 286.5,284.5 288.5,283.5 290.5,281.5 294.5,295.5 297.5,285.5 300.5,280.5 303.5,284.5 307.5,286.5 310.5,285.5 313.5,284.5 313.5,312.5 315.5,286.5 318.5,302.5 318.5,311.5 322.5,290.5 326.5,280.5 329.5,283.5 331.5,287.5 333.5,290.5 335.5,284.5 338.5,285.5 341.5,283.5 344.5,305.5" fill="none" stroke="#0000ff" stroke-width="1"/><use href="#m" x="75" y="296"/><use href="#m" x="86" y="287"/><use href="#m" x="95" y="356"/><use href="#m" x="98" y="348"/><use href="#m" x="116" y="335"/><use href="#m" x="120" y="300"/><use href="#m" x="130" y="344"/><use href="#m" x="130" y="346"/><use href="#m" x="130" y="353"/><use href="#m" x="134" y="310"/><use href="#m" x="143" y="289"/><use href="#m" x="146" y="298"/><use href="#m" x="149" y="288"/><use href="#m" x="151" y="287"/><use href="#m" x="153" y="287"/><use href="#m" x="156" y="289"/><use href="#m" x="159" y="290"/><use href="#m" x="161" y="288"/><use href="#m" x="164" y="287"/><use href="#m" x="166" y="288"/><use href="#m" x="168" y="289"/><use href="#m" x="171" y="290"/><use href="#m" x="173" y="344"/><use href="#m" x="175" y="294"/><use href="#m" x="178" y="288"/><use href="#m" x="181" y="284"/><use href="#m" x="184" y="290"/><use href="#m" x="187" y="294"/><use href="#m" x="189" y="290"/><use href="#m" x="192" y="287"/><use href="#m" x="195" y="294"/><use href="#m" x="202" y="332"/><use href="#m" x="204" y="288"/><use href="#m" x="206" y="284"/><use href="#m" x="208" y="279"/><use href="#m" x="211" y="284"/><use href="#m" x="212" y="290"/><use href="#m" x="214" y="302"/><use href="#m" x="216" y="290"/><use href="#m" x="218" y="290"/><use href="#m" x="220" y="291"/><use href="#m" x="223" y="292"/><use href="#m" x="226" y="293"/><use href="#m" x="230" y="295"/><use href="#m" x="230" y="305"/><use href="#m" x="233" y="287"/><use href="#m" x="237" y="283"/><use href="#m" x="240" y="286"/><use href="#m" x="243" y="288"/><use href="#m" x="245" y="290"/><use href="#m" x="248" y="283"/><use href="#m" x="250" y="286"/><use href="#m" x="254" y="287"/><use href="#m" x="255" y="303"/><use href="#m" x="259" y="305"/><use href="#m" x="262" y="280"/><use href="#m" x="265" y="285"/><use href="#m" x="268" y="287"/><use href="#m" x="270" y="284"/><use href="#m" x="272" y="280"/><use href="#m" x="274" y="287"/><use href="#m" x="277" y="288"/><use href="#m" x="280" y="289"/><use href="#m" x="282" y="290"/><use href="#m" x="284" y="286"/><use href="#m" x="286" y="284"/><use href="#m" x="288" y="283"/><use href="#m" x="290" y="281"/><use href="#m" x="294" y="295"/><use href="#m" x="297" y="285"/><use href="#m" x="300" y="280"/><use href="#m" x="303" y="284"/><use href="#m" x="307" y="286"/><use href="#m" x="310" y="285"/><use href="#m" x="313" y="284"/><use href="#m" x="313" y="312"/><use href="#m" x="315" y="286"/><use href="#m" x="318" y="302"/><use href="#m" x="318" y="311"/><use href="#m" x="322" y="290"/><use href="#m" x="326" y="280"/><use href="#m" x="329" y="283"/><use href="#m" x="331" y="287"/><use href="#m" x="333" y="290"/><use href="#m" x="335" y="284"/><use href="#m" x="338" y="285"/><use href="#m" x="341" y="283"/><use href="#m" x="344" y="305"/><rect x="48.5" y="271.5" width="322" height="91" fill="none" stroke="#000" stroke-width="1"/><rect x="49" y="280" width="9" height="1" fill="#000"/><text x="44.5" y="283.20" text-anchor="end" font-size="8.9" font-weight="bold" font-family='"Liberation Sans", sans-serif'>14.9</text><rect x="49" y="297" width="9" height="1" fill="#000"/><text x="44.5" y="300.10" text-anchor="end" font-size="8.9" font-weight="bold" font-family='"Liberation Sans", sans-serif'>14.8</text><rect x="49" y="314" width="9" height="1" fill="#000"/><text x="44.5" y="317.20" text-anchor="end" font-size="8.9" font-weight="bold" font-family='"Liberation Sans", sans-serif'>14.7</text><rect x="49" y="332" width="9" height="1" fill="#000"/><text x="44.5" y="335.30" text-anchor="end" font-size="8.9" font-weight="bold" font-family='"Liberation Sans", sans-serif'>14.6</text><rect x="49" y="349" width="9" height="1" fill="#000"/><text x="44.5" y="352.40" text-anchor="end" font-size="8.9" font-weight="bold" font-family='"Liberation Sans", sans-serif'>14.5</text><rect x="49" y="273" width="5" height="1" fill="#000"/><rect x="49" y="277" width="5" height="1" fill="#000"/><rect x="49" y="283" width="5" height="1" fill="#000"/><rect x="49" y="287" width="5" height="1" fill="#000"/><rect x="49" y="290" width="5" height="1" fill="#000"/><rect x="49" y="294" width="5" height="1" fill="#000"/><rect x="49" y="300" width="5" height="1" fill="#000"/><rect x="49" y="304" width="5" height="1" fill="#000"/><rect x="49" y="307" width="5" height="1" fill="#000"/><rect x="49" y="311" width="5" height="1" fill="#000"/><rect x="49" y="317" width="5" height="1" fill="#000"/><rect x="49" y="321" width="5" height="1" fill="#000"/><rect x="49" y="324" width="5" height="1" fill="#000"/><rect x="49" y="328" width="5" height="1" fill="#000"/><rect x="49" y="335" width="5" height="1" fill="#000"/><rect x="49" y="339" width="5" height="1" fill="#000"/><rect x="49" y="342" width="5" height="1" fill="#000"/><rect x="49" y="346" width="5" height="1" fill="#000"/><rect x="49" y="352" width="5" height="1" fill="#000"/><rect x="49" y="356" width="5" height="1" fill="#000"/><rect x="49" y="359" width="5" height="1" fill="#000"/><rect x="54" y="361" width="1" height="1" fill="#000"/><rect x="64" y="360" width="1" height="2" fill="#000"/><text x="63.0" y="370" text-anchor="middle" font-size="8.9" font-weight="bold" font-family='"Liberation Sans", sans-serif'>300</text><rect x="74" y="361" width="1" height="1" fill="#000"/><rect x="85" y="361" width="1" height="1" fill="#000"/><rect x="95" y="361" width="1" height="1" fill="#000"/><rect x="105" y="360" width="1" height="2" fill="#000"/><text x="104.0" y="370" text-anchor="middle" font-size="8.9" font-weight="bold" font-family='"Liberation Sans", sans-serif'>320</text><rect x="115" y="361" width="1" height="1" fill="#000"/><rect x="126" y="361" width="1" height="1" fill="#000"/><rect x="136" y="361" width="1" height="1" fill="#000"/><rect x="146" y="360" width="1" height="2" fill="#000"/><text x="145.0" y="370" text-anchor="middle" font-size="8.9" font-weight="bold" font-family='"Liberation Sans", sans-serif'>340</text><rect x="156" y="361" width="1" height="1" fill="#000"/><rect x="167" y="361" width="1" height="1" fill="#000"/><rect x="177" y="361" width="1" height="1" fill="#000"/><rect x="187" y="360" width="1" height="2" fill="#000"/><text x="186.0" y="370" text-anchor="middle" font-size="8.9" font-weight="bold" font-family='"Liberation Sans", sans-serif'>360</text><rect x="197" y="361" width="1" height="1" fill="#000"/><rect x="208" y="361" width="1" height="1" fill="#000"/><rect x="218" y="361" width="1" height="1" fill="#000"/><rect x="228" y="360" width="1" height="2" fill="#000"/><text x="227.0" y="370" text-anchor="middle" font-size="8.9" font-weight="bold" font-family='"Liberation Sans", sans-serif'>380</text><rect x="238" y="361" width="1" height="1" fill="#000"/><rect x="248" y="361" width="1" height="1" fill="#000"/><rect x="259" y="361" width="1" height="1" fill="#000"/><rect x="269" y="360" width="1" height="2" fill="#000"/><text x="268.0" y="370" text-anchor="middle" font-size="8.9" font-weight="bold" font-family='"Liberation Sans", sans-serif'>400</text><rect x="279" y="361" width="1" height="1" fill="#000"/><rect x="290" y="361" width="1" height="1" fill="#000"/><rect x="300" y="361" width="1" height="1" fill="#000"/><rect x="310" y="360" width="1" height="2" fill="#000"/><text x="309.0" y="370" text-anchor="middle" font-size="8.9" font-weight="bold" font-family='"Liberation Sans", sans-serif'>420</text><rect x="320" y="361" width="1" height="1" fill="#000"/><rect x="331" y="361" width="1" height="1" fill="#000"/><rect x="341" y="361" width="1" height="1" fill="#000"/><rect x="351" y="360" width="1" height="2" fill="#000"/><text x="350.0" y="370" text-anchor="middle" font-size="8.9" font-weight="bold" font-family='"Liberation Sans", sans-serif'>440</text><rect x="361" y="361" width="1" height="1" fill="#000"/><rect x="12.5" y="260.5" width="322" height="12" fill="#fff" stroke="#000" stroke-width="1"/><text x="171.2" y="269.2" text-anchor="middle" font-size="8.9" font-weight="bold" font-family='"Liberation Sans", sans-serif' textLength="201.7" lengthAdjust="spacingAndGlyphs">South Sta-2 Oct-4 Gains vrs Day (Packet 11069)</text></g><g shape-rendering="crispEdges"><polyline points="495.5,287.5 506.5,279.5 515.5,349.5 518.5,352.5 536.5,338.5 540.5,319.5 550.5,350.5 550.5,352.5 550.5,354.5 554.5,315.5 563.5,307.5 566.5,315.5 569.5,313.5 572.5,317.5 575.5,304.5 578.5,311.5 581.5,312.5 584.5,311.5 586.5,312.5 589.5,313.5 591.5,317.5 593.5,356.5 595.5,315.5 598.5,310.5 601.5,306.5 604.5,311.5 607.5,312.5 609.5,310.5 612.5,308.5 615.5,316.5 622.5,339.5 624.5,312.5 626.5,305.5 628.5,304.5 631.5,309.5 632.5,315.5 634.5,331.5 636.5,313.5 638.5,313.5 641.5,313.5 643.5,313.5 646.5,315.5 650.5,320.5 651.5,313.5 654.5,307.5 657.5,299.5 661.5,304.5 663.5,307.5 665.5,311.5 668.5,304.5 670.5,305.5 674.5,304.5 675.5,321.5 679.5,323.5 682.5,306.5 685.5,305.5 688.5,304.5 690.5,306.5 692.5,309.5 695.5,308.5 698.5,311.5 700.5,312.5 702.5,308.5 704.5,305.5 707.5,306.5 710.5,306.5 712.5,307.5 715.5,309.5 718.5,311.5 721.5,308.5 724.5,311.5 726.5,302.5 729.5,302.5 733.5,301.5 733.5,320.5 735.5,305.5 738.5,318.5 738.5,328.5 742.5,308.5 745.5,303.5 747.5,302.5 749.5,303.5 753.5,311.5 755.5,304.5 758.5,306.5 761.5,311.5 764.5,322.5" fill="none" stroke="#0000ff" stroke-width="1"/><use href="#m" x="495" y="287"/><use href="#m" x="506" y="279"/><use href="#m" x="515" y="349"/><use href="#m" x="518" y="352"/><use href="#m" x="536" y="338"/><use href="#m" x="540" y="319"/><use href="#m" x="550" y="350"/><use href="#m" x="550" y="352"/><use href="#m" x="550" y="354"/><use href="#m" x="554" y="315"/><use href="#m" x="563" y="307"/><use href="#m" x="566" y="315"/><use href="#m" x="569" y="313"/><use href="#m" x="572" y="317"/><use href="#m" x="575" y="304"/><use href="#m" x="578" y="311"/><use href="#m" x="581" y="312"/><use href="#m" x="584" y="311"/><use href="#m" x="586" y="312"/><use href="#m" x="589" y="313"/><use href="#m" x="591" y="317"/><use href="#m" x="593" y="356"/><use href="#m" x="595" y="315"/><use href="#m" x="598" y="310"/><use href="#m" x="601" y="306"/><use href="#m" x="604" y="311"/><use href="#m" x="607" y="312"/><use href="#m" x="609" y="310"/><use href="#m" x="612" y="308"/><use href="#m" x="615" y="316"/><use href="#m" x="622" y="339"/><use href="#m" x="624" y="312"/><use href="#m" x="626" y="305"/><use href="#m" x="628" y="304"/><use href="#m" x="631" y="309"/><use href="#m" x="632" y="315"/><use href="#m" x="634" y="331"/><use href="#m" x="636" y="313"/><use href="#m" x="638" y="313"/><use href="#m" x="641" y="313"/><use href="#m" x="643" y="313"/><use href="#m" x="646" y="315"/><use href="#m" x="650" y="320"/><use href="#m" x="651" y="313"/><use href="#m" x="654" y="307"/><use href="#m" x="657" y="299"/><use href="#m" x="661" y="304"/><use href="#m" x="663" y="307"/><use href="#m" x="665" y="311"/><use href="#m" x="668" y="304"/><use href="#m" x="670" y="305"/><use href="#m" x="674" y="304"/><use href="#m" x="675" y="321"/><use href="#m" x="679" y="323"/><use href="#m" x="682" y="306"/><use href="#m" x="685" y="305"/><use href="#m" x="688" y="304"/><use href="#m" x="690" y="306"/><use href="#m" x="692" y="309"/><use href="#m" x="695" y="308"/><use href="#m" x="698" y="311"/><use href="#m" x="700" y="312"/><use href="#m" x="702" y="308"/><use href="#m" x="704" y="305"/><use href="#m" x="707" y="306"/><use href="#m" x="710" y="306"/><use href="#m" x="712" y="307"/><use href="#m" x="715" y="309"/><use href="#m" x="718" y="311"/><use href="#m" x="721" y="308"/><use href="#m" x="724" y="311"/><use href="#m" x="726" y="302"/><use href="#m" x="729" y="302"/><use href="#m" x="733" y="301"/><use href="#m" x="733" y="320"/><use href="#m" x="735" y="305"/><use href="#m" x="738" y="318"/><use href="#m" x="738" y="328"/><use href="#m" x="742" y="308"/><use href="#m" x="745" y="303"/><use href="#m" x="747" y="302"/><use href="#m" x="749" y="303"/><use href="#m" x="753" y="311"/><use href="#m" x="755" y="304"/><use href="#m" x="758" y="306"/><use href="#m" x="761" y="311"/><use href="#m" x="764" y="322"/><rect x="468.5" y="271.5" width="322" height="91" fill="none" stroke="#000" stroke-width="1"/><rect x="469" y="280" width="9" height="1" fill="#000"/><text x="464.5" y="283.20" text-anchor="end" font-size="8.9" font-weight="bold" font-family='"Liberation Sans", sans-serif'>13.6</text><rect x="469" y="289" width="9" height="1" fill="#000"/><text x="464.5" y="292.20" text-anchor="end" font-size="8.9" font-weight="bold" font-family='"Liberation Sans", sans-serif'>13.55</text><rect x="469" y="298" width="9" height="1" fill="#000"/><text x="464.5" y="301.50" text-anchor="end" font-size="8.9" font-weight="bold" font-family='"Liberation Sans", sans-serif'>13.5</text><rect x="469" y="308" width="9" height="1" fill="#000"/><text x="464.5" y="311.40" text-anchor="end" font-size="8.9" font-weight="bold" font-family='"Liberation Sans", sans-serif'>13.45</text><rect x="469" y="317" width="9" height="1" fill="#000"/><text x="464.5" y="320.30" text-anchor="end" font-size="8.9" font-weight="bold" font-family='"Liberation Sans", sans-serif'>13.4</text><rect x="469" y="326" width="9" height="1" fill="#000"/><text x="464.5" y="329.30" text-anchor="end" font-size="8.9" font-weight="bold" font-family='"Liberation Sans", sans-serif'>13.35</text><rect x="469" y="335" width="9" height="1" fill="#000"/><text x="464.5" y="338.00" text-anchor="end" font-size="8.9" font-weight="bold" font-family='"Liberation Sans", sans-serif'>13.3</text><rect x="469" y="345" width="9" height="1" fill="#000"/><text x="464.5" y="348.30" text-anchor="end" font-size="8.9" font-weight="bold" font-family='"Liberation Sans", sans-serif'>13.25</text><rect x="469" y="354" width="9" height="1" fill="#000"/><text x="464.5" y="357.30" text-anchor="end" font-size="8.9" font-weight="bold" font-family='"Liberation Sans", sans-serif'>13.2</text><rect x="469" y="273" width="5" height="1" fill="#000"/><rect x="469" y="274" width="5" height="1" fill="#000"/><rect x="469" y="276" width="5" height="1" fill="#000"/><rect x="469" y="278" width="5" height="1" fill="#000"/><rect x="469" y="282" width="5" height="1" fill="#000"/><rect x="469" y="284" width="5" height="1" fill="#000"/><rect x="469" y="286" width="5" height="1" fill="#000"/><rect x="469" y="287" width="5" height="1" fill="#000"/><rect x="469" y="291" width="5" height="1" fill="#000"/><rect x="469" y="293" width="5" height="1" fill="#000"/><rect x="469" y="295" width="5" height="1" fill="#000"/><rect x="469" y="296" width="5" height="1" fill="#000"/><rect x="469" y="300" width="5" height="1" fill="#000"/><rect x="469" y="302" width="5" height="1" fill="#000"/><rect x="469" y="304" width="5" height="1" fill="#000"/><rect x="469" y="305" width="5" height="1" fill="#000"/><rect x="469" y="310" width="5" height="1" fill="#000"/><rect x="469" y="312" width="5" height="1" fill="#000"/><rect x="469" y="314" width="5" height="1" fill="#000"/><rect x="469" y="315" width="5" height="1" fill="#000"/><rect x="469" y="319" width="5" height="1" fill="#000"/><rect x="469" y="321" width="5" height="1" fill="#000"/><rect x="469" y="323" width="5" height="1" fill="#000"/><rect x="469" y="324" width="5" height="1" fill="#000"/><rect x="469" y="328" width="5" height="1" fill="#000"/><rect x="469" y="330" width="5" height="1" fill="#000"/><rect x="469" y="332" width="5" height="1" fill="#000"/><rect x="469" y="333" width="5" height="1" fill="#000"/><rect x="469" y="337" width="5" height="1" fill="#000"/><rect x="469" y="339" width="5" height="1" fill="#000"/><rect x="469" y="341" width="5" height="1" fill="#000"/><rect x="469" y="342" width="5" height="1" fill="#000"/><rect x="469" y="347" width="5" height="1" fill="#000"/><rect x="469" y="349" width="5" height="1" fill="#000"/><rect x="469" y="351" width="5" height="1" fill="#000"/><rect x="469" y="352" width="5" height="1" fill="#000"/><rect x="469" y="356" width="5" height="1" fill="#000"/><rect x="469" y="358" width="5" height="1" fill="#000"/><rect x="469" y="360" width="5" height="1" fill="#000"/><rect x="474" y="361" width="1" height="1" fill="#000"/><rect x="484" y="360" width="1" height="2" fill="#000"/><text x="483.0" y="370" text-anchor="middle" font-size="8.9" font-weight="bold" font-family='"Liberation Sans", sans-serif'>300</text><rect x="494" y="361" width="1" height="1" fill="#000"/><rect x="505" y="361" width="1" height="1" fill="#000"/><rect x="515" y="361" width="1" height="1" fill="#000"/><rect x="525" y="360" width="1" height="2" fill="#000"/><text x="524.0" y="370" text-anchor="middle" font-size="8.9" font-weight="bold" font-family='"Liberation Sans", sans-serif'>320</text><rect x="535" y="361" width="1" height="1" fill="#000"/><rect x="546" y="361" width="1" height="1" fill="#000"/><rect x="556" y="361" width="1" height="1" fill="#000"/><rect x="566" y="360" width="1" height="2" fill="#000"/><text x="565.0" y="370" text-anchor="middle" font-size="8.9" font-weight="bold" font-family='"Liberation Sans", sans-serif'>340</text><rect x="576" y="361" width="1" height="1" fill="#000"/><rect x="587" y="361" width="1" height="1" fill="#000"/><rect x="597" y="361" width="1" height="1" fill="#000"/><rect x="607" y="360" width="1" height="2" fill="#000"/><text x="606.0" y="370" text-anchor="middle" font-size="8.9" font-weight="bold" font-family='"Liberation Sans", sans-serif'>360</text><rect x="617" y="361" width="1" height="1" fill="#000"/><rect x="628" y="361" width="1" height="1" fill="#000"/><rect x="638" y="361" width="1" height="1" fill="#000"/><rect x="648" y="360" width="1" height="2" fill="#000"/><text x="647.0" y="370" text-anchor="middle" font-size="8.9" font-weight="bold" font-family='"Liberation Sans", sans-serif'>380</text><rect x="658" y="361" width="1" height="1" fill="#000"/><rect x="669" y="361" width="1" height="1" fill="#000"/><rect x="679" y="361" width="1" height="1" fill="#000"/><rect x="689" y="360" width="1" height="2" fill="#000"/><text x="688.0" y="370" text-anchor="middle" font-size="8.9" font-weight="bold" font-family='"Liberation Sans", sans-serif'>400</text><rect x="699" y="361" width="1" height="1" fill="#000"/><rect x="710" y="361" width="1" height="1" fill="#000"/><rect x="720" y="361" width="1" height="1" fill="#000"/><rect x="730" y="360" width="1" height="2" fill="#000"/><text x="729.0" y="370" text-anchor="middle" font-size="8.9" font-weight="bold" font-family='"Liberation Sans", sans-serif'>420</text><rect x="740" y="361" width="1" height="1" fill="#000"/><rect x="751" y="361" width="1" height="1" fill="#000"/><rect x="761" y="361" width="1" height="1" fill="#000"/><rect x="771" y="360" width="1" height="2" fill="#000"/><text x="770.0" y="370" text-anchor="middle" font-size="8.9" font-weight="bold" font-family='"Liberation Sans", sans-serif'>440</text><rect x="781" y="361" width="1" height="1" fill="#000"/><rect x="432.5" y="260.5" width="322" height="12" fill="#fff" stroke="#000" stroke-width="1"/><text x="591.2" y="269.2" text-anchor="middle" font-size="8.9" font-weight="bold" font-family='"Liberation Sans", sans-serif' textLength="201.7" lengthAdjust="spacingAndGlyphs">South Sta-2 Oct-4 Gains vrs Day (Packet 11070)</text></g><g shape-rendering="crispEdges"><polyline points="75.5,416.5 86.5,406.5 95.5,479.5 98.5,480.5 116.5,464.5 120.5,446.5 130.5,475.5 130.5,477.5 134.5,448.5 143.5,442.5 145.5,441.5 147.5,440.5 150.5,441.5 152.5,441.5 155.5,432.5 158.5,439.5 161.5,440.5 164.5,441.5 166.5,441.5 169.5,442.5 171.5,442.5 173.5,482.5 175.5,443.5 178.5,440.5 181.5,437.5 184.5,439.5 188.5,439.5 190.5,437.5 192.5,436.5 195.5,444.5 202.5,465.5 204.5,436.5 206.5,436.5 208.5,435.5 211.5,439.5 214.5,453.5 217.5,437.5 219.5,440.5 221.5,442.5 224.5,441.5 227.5,440.5 230.5,450.5 231.5,438.5 234.5,436.5 237.5,430.5 240.5,434.5 244.5,437.5 248.5,434.5 251.5,433.5 254.5,432.5 255.5,450.5 259.5,462.5 262.5,432.5 265.5,434.5 268.5,434.5 270.5,434.5 272.5,434.5 275.5,433.5 278.5,434.5 280.5,435.5 282.5,432.5 284.5,428.5 286.5,432.5 289.5,434.5 292.5,434.5 295.5,433.5 298.5,435.5 300.5,433.5 302.5,432.5 304.5,431.5 307.5,428.5 310.5,431.5 313.5,432.5 313.5,450.5 316.5,442.5 318.5,451.5 318.5,456.5 323.5,429.5 325.5,429.5 327.5,429.5 330.5,430.5 333.5,433.5 335.5,429.5 338.5,432.5 341.5,436.5 344.5,466.5" fill="none" stroke="#0000ff" stroke-width="1"/><use href="#m" x="75" y="416"/><use href="#m" x="86" y="406"/><use href="#m" x="95" y="479"/><use href="#m" x="98" y="480"/><use href="#m" x="116" y="464"/><use href="#m" x="120" y="446"/><use href="#m" x="130" y="475"/><use href="#m" x="130" y="477"/><use href="#m" x="134" y="448"/><use href="#m" x="143" y="442"/><use href="#m" x="145" y="441"/><use href="#m" x="147" y="440"/><use href="#m" x="150" y="441"/><use href="#m" x="152" y="441"/><use href="#m" x="155" y="432"/><use href="#m" x="158" y="439"/><use href="#m" x="161" y="440"/><use href="#m" x="164" y="441"/><use href="#m" x="166" y="441"/><use href="#m" x="169" y="442"/><use href="#m" x="171" y="442"/><use href="#m" x="173" y="482"/><use href="#m" x="175" y="443"/><use href="#m" x="178" y="440"/><use href="#m" x="181" y="437"/><use href="#m" x="184" y="439"/><use href="#m" x="188" y="439"/><use href="#m" x="190" y="437"/><use href="#m" x="192" y="436"/><use href="#m" x="195" y="444"/><use href="#m" x="202" y="465"/><use href="#m" x="204" y="436"/><use href="#m" x="206" y="436"/><use href="#m" x="208" y="435"/><use href="#m" x="211" y="439"/><use href="#m" x="214" y="453"/><use href="#m" x="217" y="437"/><use href="#m" x="219" y="440"/><use href="#m" x="221" y="442"/><use href="#m" x="224" y="441"/><use href="#m" x="227" y="440"/><use href="#m" x="230" y="450"/><use href="#m" x="231" y="438"/><use href="#m" x="234" y="436"/><use href="#m" x="237" y="430"/><use href="#m" x="240" y="434"/><use href="#m" x="244" y="437"/><use href="#m" x="248" y="434"/><use href="#m" x="251" y="433"/><use href="#m" x="254" y="432"/><use href="#m" x="255" y="450"/><use href="#m" x="259" y="462"/><use href="#m" x="262" y="432"/><use href="#m" x="265" y="434"/><use href="#m" x="268" y="434"/><use href="#m" x="270" y="434"/><use href="#m" x="272" y="434"/><use href="#m" x="275" y="433"/><use href="#m" x="278" y="434"/><use href="#m" x="280" y="435"/><use href="#m" x="282" y="432"/><use href="#m" x="284" y="428"/><use href="#m" x="286" y="432"/><use href="#m" x="289" y="434"/><use href="#m" x="292" y="434"/><use href="#m" x="295" y="433"/><use href="#m" x="298" y="435"/><use href="#m" x="300" y="433"/><use href="#m" x="302" y="432"/><use href="#m" x="304" y="431"/><use href="#m" x="307" y="428"/><use href="#m" x="310" y="431"/><use href="#m" x="313" y="432"/><use href="#m" x="313" y="450"/><use href="#m" x="316" y="442"/><use href="#m" x="318" y="451"/><use href="#m" x="318" y="456"/><use href="#m" x="323" y="429"/><use href="#m" x="325" y="429"/><use href="#m" x="327" y="429"/><use href="#m" x="330" y="430"/><use href="#m" x="333" y="433"/><use href="#m" x="335" y="429"/><use href="#m" x="338" y="432"/><use href="#m" x="341" y="436"/><use href="#m" x="344" y="466"/><rect x="48.5" y="398.5" width="322" height="91" fill="none" stroke="#000" stroke-width="1"/><text x="44.5" y="401.80" text-anchor="end" font-size="8.9" font-weight="bold" font-family='"Liberation Sans", sans-serif'>13.7</text><rect x="49" y="415" width="9" height="1" fill="#000"/><text x="44.5" y="418.50" text-anchor="end" font-size="8.9" font-weight="bold" font-family='"Liberation Sans", sans-serif'>13.6</text><rect x="49" y="432" width="9" height="1" fill="#000"/><text x="44.5" y="435.40" text-anchor="end" font-size="8.9" font-weight="bold" font-family='"Liberation Sans", sans-serif'>13.5</text><rect x="49" y="449" width="9" height="1" fill="#000"/><text x="44.5" y="452.10" text-anchor="end" font-size="8.9" font-weight="bold" font-family='"Liberation Sans", sans-serif'>13.4</text><rect x="49" y="465" width="9" height="1" fill="#000"/><text x="44.5" y="468.30" text-anchor="end" font-size="8.9" font-weight="bold" font-family='"Liberation Sans", sans-serif'>13.3</text><rect x="49" y="482" width="9" height="1" fill="#000"/><text x="44.5" y="485.30" text-anchor="end" font-size="8.9" font-weight="bold" font-family='"Liberation Sans", sans-serif'>13.2</text><rect x="49" y="401" width="5" height="1" fill="#000"/><rect x="49" y="405" width="5" height="1" fill="#000"/><rect x="49" y="408" width="5" height="1" fill="#000"/><rect x="49" y="411" width="5" height="1" fill="#000"/><rect x="49" y="418" width="5" height="1" fill="#000"/><rect x="49" y="422" width="5" height="1" fill="#000"/><rect x="49" y="425" width="5" height="1" fill="#000"/><rect x="49" y="428" width="5" height="1" fill="#000"/><rect x="49" y="435" width="5" height="1" fill="#000"/><rect x="49" y="439" width="5" height="1" fill="#000"/><rect x="49" y="442" width="5" height="1" fill="#000"/><rect x="49" y="445" width="5" height="1" fill="#000"/><rect x="49" y="452" width="5" height="1" fill="#000"/><rect x="49" y="456" width="5" height="1" fill="#000"/><rect x="49" y="459" width="5" height="1" fill="#000"/><rect x="49" y="462" width="5" height="1" fill="#000"/><rect x="49" y="468" width="5" height="1" fill="#000"/><rect x="49" y="472" width="5" height="1" fill="#000"/><rect x="49" y="475" width="5" height="1" fill="#000"/><rect x="49" y="478" width="5" height="1" fill="#000"/><rect x="49" y="485" width="5" height="1" fill="#000"/><rect x="54" y="488" width="1" height="1" fill="#000"/><rect x="64" y="487" width="1" height="2" fill="#000"/><text x="63.0" y="497" text-anchor="middle" font-size="8.9" font-weight="bold" font-family='"Liberation Sans", sans-serif'>300</text><rect x="74" y="488" width="1" height="1" fill="#000"/><rect x="85" y="488" width="1" height="1" fill="#000"/><rect x="95" y="488" width="1" height="1" fill="#000"/><rect x="105" y="487" width="1" height="2" fill="#000"/><text x="104.0" y="497" text-anchor="middle" font-size="8.9" font-weight="bold" font-family='"Liberation Sans", sans-serif'>320</text><rect x="115" y="488" width="1" height="1" fill="#000"/><rect x="126" y="488" width="1" height="1" fill="#000"/><rect x="136" y="488" width="1" height="1" fill="#000"/><rect x="146" y="487" width="1" height="2" fill="#000"/><text x="145.0" y="497" text-anchor="middle" font-size="8.9" font-weight="bold" font-family='"Liberation Sans", sans-serif'>340</text><rect x="156" y="488" width="1" height="1" fill="#000"/><rect x="167" y="488" width="1" height="1" fill="#000"/><rect x="177" y="488" width="1" height="1" fill="#000"/><rect x="187" y="487" width="1" height="2" fill="#000"/><text x="186.0" y="497" text-anchor="middle" font-size="8.9" font-weight="bold" font-family='"Liberation Sans", sans-serif'>360</text><rect x="197" y="488" width="1" height="1" fill="#000"/><rect x="208" y="488" width="1" height="1" fill="#000"/><rect x="218" y="488" width="1" height="1" fill="#000"/><rect x="228" y="487" width="1" height="2" fill="#000"/><text x="227.0" y="497" text-anchor="middle" font-size="8.9" font-weight="bold" font-family='"Liberation Sans", sans-serif'>380</text><rect x="238" y="488" width="1" height="1" fill="#000"/><rect x="248" y="488" width="1" height="1" fill="#000"/><rect x="259" y="488" width="1" height="1" fill="#000"/><rect x="269" y="487" width="1" height="2" fill="#000"/><text x="268.0" y="497" text-anchor="middle" font-size="8.9" font-weight="bold" font-family='"Liberation Sans", sans-serif'>400</text><rect x="279" y="488" width="1" height="1" fill="#000"/><rect x="290" y="488" width="1" height="1" fill="#000"/><rect x="300" y="488" width="1" height="1" fill="#000"/><rect x="310" y="487" width="1" height="2" fill="#000"/><text x="309.0" y="497" text-anchor="middle" font-size="8.9" font-weight="bold" font-family='"Liberation Sans", sans-serif'>420</text><rect x="320" y="488" width="1" height="1" fill="#000"/><rect x="331" y="488" width="1" height="1" fill="#000"/><rect x="341" y="488" width="1" height="1" fill="#000"/><rect x="351" y="487" width="1" height="2" fill="#000"/><text x="350.0" y="497" text-anchor="middle" font-size="8.9" font-weight="bold" font-family='"Liberation Sans", sans-serif'>440</text><rect x="361" y="488" width="1" height="1" fill="#000"/><rect x="12.5" y="387.5" width="322" height="12" fill="#fff" stroke="#000" stroke-width="1"/><text x="171.2" y="396.2" text-anchor="middle" font-size="8.9" font-weight="bold" font-family='"Liberation Sans", sans-serif' textLength="201.7" lengthAdjust="spacingAndGlyphs">South Sta-2 Oct-4 Gains vrs Day (Packet 11071)</text></g><g shape-rendering="crispEdges"><polyline points="495.5,424.5 506.5,410.5 515.5,483.5 518.5,477.5 536.5,462.5 540.5,442.5 550.5,465.5 550.5,469.5 550.5,477.5 554.5,437.5 563.5,427.5 566.5,430.5 569.5,425.5 572.5,427.5 575.5,414.5 575.5,432.5 578.5,423.5 581.5,425.5 584.5,425.5 586.5,429.5 589.5,427.5 591.5,427.5 593.5,481.5 595.5,430.5 598.5,424.5 601.5,421.5 604.5,422.5 608.5,423.5 611.5,424.5 615.5,426.5 622.5,455.5 624.5,422.5 625.5,417.5 628.5,410.5 631.5,418.5 632.5,423.5 634.5,440.5 636.5,425.5 638.5,426.5 640.5,427.5 643.5,429.5 647.5,427.5 650.5,445.5 651.5,423.5 654.5,423.5 657.5,411.5 661.5,413.5 663.5,417.5 665.5,421.5 668.5,420.5 670.5,415.5 674.5,411.5 675.5,438.5 679.5,433.5 682.5,411.5 685.5,413.5 688.5,414.5 692.5,410.5 694.5,414.5 696.5,418.5 699.5,415.5 702.5,412.5 704.5,414.5 706.5,416.5 709.5,413.5 712.5,411.5 715.5,415.5 718.5,422.5 720.5,418.5 722.5,416.5 724.5,412.5 727.5,406.5 729.5,409.5 732.5,409.5 733.5,438.5 736.5,407.5 738.5,432.5 738.5,445.5 742.5,418.5 745.5,413.5 747.5,406.5 751.5,412.5 753.5,417.5 755.5,408.5 758.5,414.5 761.5,422.5 764.5,432.5" fill="none" stroke="#0000ff" stroke-width="1"/><use href="#m" x="495" y="424"/><use href="#m" x="506" y="410"/><use href="#m" x="515" y="483"/><use href="#m" x="518" y="477"/><use href="#m" x="536" y="462"/><use href="#m" x="540" y="442"/><use href="#m" x="550" y="465"/><use href="#m" x="550" y="469"/><use href="#m" x="550" y="477"/><use href="#m" x="554" y="437"/><use href="#m" x="563" y="427"/><use href="#m" x="566" y="430"/><use href="#m" x="569" y="425"/><use href="#m" x="572" y="427"/><use href="#m" x="575" y="414"/><use href="#m" x="575" y="432"/><use href="#m" x="578" y="423"/><use href="#m" x="581" y="425"/><use href="#m" x="584" y="425"/><use href="#m" x="586" y="429"/><use href="#m" x="589" y="427"/><use href="#m" x="591" y="427"/><use href="#m" x="593" y="481"/><use href="#m" x="595" y="430"/><use href="#m" x="598" y="424"/><use href="#m" x="601" y="421"/><use href="#m" x="604" y="422"/><use href="#m" x="608" y="423"/><use href="#m" x="611" y="424"/><use href="#m" x="615" y="426"/><use href="#m" x="622" y="455"/><use href="#m" x="624" y="422"/><use href="#m" x="625" y="417"/><use href="#m" x="628" y="410"/><use href="#m" x="631" y="418"/><use href="#m" x="632" y="423"/><use href="#m" x="634" y="440"/><use href="#m" x="636" y="425"/><use href="#m" x="638" y="426"/><use href="#m" x="640" y="427"/><use href="#m" x="643" y="429"/><use href="#m" x="647" y="427"/><use href="#m" x="650" y="445"/><use href="#m" x="651" y="423"/><use href="#m" x="654" y="423"/><use href="#m" x="657" y="411"/><use href="#m" x="661" y="413"/><use href="#m" x="663" y="417"/><use href="#m" x="665" y="421"/><use href="#m" x="668" y="420"/><use href="#m" x="670" y="415"/><use href="#m" x="674" y="411"/><use href="#m" x="675" y="438"/><use href="#m" x="679" y="433"/><use href="#m" x="682" y="411"/><use href="#m" x="685" y="413"/><use href="#m" x="688" y="414"/><use href="#m" x="692" y="410"/><use href="#m" x="694" y="414"/><use href="#m" x="696" y="418"/><use href="#m" x="699" y="415"/><use href="#m" x="702" y="412"/><use href="#m" x="704" y="414"/><use href="#m" x="706" y="416"/><use href="#m" x="709" y="413"/><use href="#m" x="712" y="411"/><use href="#m" x="715" y="415"/><use href="#m" x="718" y="422"/><use href="#m" x="720" y="418"/><use href="#m" x="722" y="416"/><use href="#m" x="724" y="412"/><use href="#m" x="727" y="406"/><use href="#m" x="729" y="409"/><use href="#m" x="732" y="409"/><use href="#m" x="733" y="438"/><use href="#m" x="736" y="407"/><use href="#m" x="738" y="432"/><use href="#m" x="738" y="445"/><use href="#m" x="742" y="418"/><use href="#m" x="745" y="413"/><use href="#m" x="747" y="406"/><use href="#m" x="751" y="412"/><use href="#m" x="753" y="417"/><use href="#m" x="755" y="408"/><use href="#m" x="758" y="414"/><use href="#m" x="761" y="422"/><use href="#m" x="764" y="432"/><rect x="468.5" y="398.5" width="322" height="91" fill="none" stroke="#000" stroke-width="1"/><rect x="469" y="406" width="9" height="1" fill="#000"/><text x="464.5" y="409.50" text-anchor="end" font-size="8.9" font-weight="bold" font-family='"Liberation Sans", sans-serif'>14.35</text><rect x="469" y="418" width="9" height="1" fill="#000"/><text x="464.5" y="421.40" text-anchor="end" font-size="8.9" font-weight="bold" font-family='"Liberation Sans", sans-serif'>14.3</text><rect x="469" y="430" width="9" height="1" fill="#000"/><text x="464.5" y="433.10" text-anchor="end" font-size="8.9" font-weight="bold" font-family='"Liberation Sans", sans-serif'>14.25</text><rect x="469" y="442" width="9" height="1" fill="#000"/><text x="464.5" y="445.40" text-anchor="end" font-size="8.9" font-weight="bold" font-family='"Liberation Sans", sans-serif'>14.2</text><rect x="469" y="453" width="9" height="1" fill="#000"/><text x="464.5" y="456.30" text-anchor="end" font-size="8.9" font-weight="bold" font-family='"Liberation Sans", sans-serif'>14.15</text><rect x="469" y="465" width="9" height="1" fill="#000"/><text x="464.5" y="468.30" text-anchor="end" font-size="8.9" font-weight="bold" font-family='"Liberation Sans", sans-serif'>14.1</text><rect x="469" y="477" width="9" height="1" fill="#000"/><text x="464.5" y="480.40" text-anchor="end" font-size="8.9" font-weight="bold" font-family='"Liberation Sans", sans-serif'>14.05</text><text x="464.5" y="492.10" text-anchor="end" font-size="8.9" font-weight="bold" font-family='"Liberation Sans", sans-serif'>14</text><rect x="469" y="399" width="5" height="1" fill="#000"/><rect x="469" y="401" width="5" height="1" fill="#000"/><rect x="469" y="404" width="5" height="1" fill="#000"/><rect x="469" y="408" width="5" height="1" fill="#000"/><rect x="469" y="411" width="5" height="1" fill="#000"/><rect x="469" y="413" width="5" height="1" fill="#000"/><rect x="469" y="415" width="5" height="1" fill="#000"/><rect x="469" y="420" width="5" height="1" fill="#000"/><rect x="469" y="423" width="5" height="1" fill="#000"/><rect x="469" y="425" width="5" height="1" fill="#000"/><rect x="469" y="427" width="5" height="1" fill="#000"/><rect x="469" y="432" width="5" height="1" fill="#000"/><rect x="469" y="435" width="5" height="1" fill="#000"/><rect x="469" y="437" width="5" height="1" fill="#000"/><rect x="469" y="439" width="5" height="1" fill="#000"/><rect x="469" y="444" width="5" height="1" fill="#000"/><rect x="469" y="447" width="5" height="1" fill="#000"/><rect x="469" y="449" width="5" height="1" fill="#000"/><rect x="469" y="451" width="5" height="1" fill="#000"/><rect x="469" y="455" width="5" height="1" fill="#000"/><rect x="469" y="458" width="5" height="1" fill="#000"/><rect x="469" y="460" width="5" height="1" fill="#000"/><rect x="469" y="462" width="5" height="1" fill="#000"/><rect x="469" y="467" width="5" height="1" fill="#000"/><rect x="469" y="470" width="5" height="1" fill="#000"/><rect x="469" y="472" width="5" height="1" fill="#000"/><rect x="469" y="474" width="5" height="1" fill="#000"/><rect x="469" y="479" width="5" height="1" fill="#000"/><rect x="469" y="482" width="5" height="1" fill="#000"/><rect x="469" y="484" width="5" height="1" fill="#000"/><rect x="469" y="486" width="5" height="1" fill="#000"/><rect x="474" y="488" width="1" height="1" fill="#000"/><rect x="484" y="487" width="1" height="2" fill="#000"/><text x="483.0" y="497" text-anchor="middle" font-size="8.9" font-weight="bold" font-family='"Liberation Sans", sans-serif'>300</text><rect x="494" y="488" width="1" height="1" fill="#000"/><rect x="505" y="488" width="1" height="1" fill="#000"/><rect x="515" y="488" width="1" height="1" fill="#000"/><rect x="525" y="487" width="1" height="2" fill="#000"/><text x="524.0" y="497" text-anchor="middle" font-size="8.9" font-weight="bold" font-family='"Liberation Sans", sans-serif'>320</text><rect x="535" y="488" width="1" height="1" fill="#000"/><rect x="546" y="488" width="1" height="1" fill="#000"/><rect x="556" y="488" width="1" height="1" fill="#000"/><rect x="566" y="487" width="1" height="2" fill="#000"/><text x="565.0" y="497" text-anchor="middle" font-size="8.9" font-weight="bold" font-family='"Liberation Sans", sans-serif'>340</text><rect x="576" y="488" width="1" height="1" fill="#000"/><rect x="587" y="488" width="1" height="1" fill="#000"/><rect x="597" y="488" width="1" height="1" fill="#000"/><rect x="607" y="487" width="1" height="2" fill="#000"/><text x="606.0" y="497" text-anchor="middle" font-size="8.9" font-weight="bold" font-family='"Liberation Sans", sans-serif'>360</text><rect x="617" y="488" width="1" height="1" fill="#000"/><rect x="628" y="488" width="1" height="1" fill="#000"/><rect x="638" y="488" width="1" height="1" fill="#000"/><rect x="648" y="487" width="1" height="2" fill="#000"/><text x="647.0" y="497" text-anchor="middle" font-size="8.9" font-weight="bold" font-family='"Liberation Sans", sans-serif'>380</text><rect x="658" y="488" width="1" height="1" fill="#000"/><rect x="669" y="488" width="1" height="1" fill="#000"/><rect x="679" y="488" width="1" height="1" fill="#000"/><rect x="689" y="487" width="1" height="2" fill="#000"/><text x="688.0" y="497" text-anchor="middle" font-size="8.9" font-weight="bold" font-family='"Liberation Sans", sans-serif'>400</text><rect x="699" y="488" width="1" height="1" fill="#000"/><rect x="710" y="488" width="1" height="1" fill="#000"/><rect x="720" y="488" width="1" height="1" fill="#000"/><rect x="730" y="487" width="1" height="2" fill="#000"/><text x="729.0" y="497" text-anchor="middle" font-size="8.9" font-weight="bold" font-family='"Liberation Sans", sans-serif'>420</text><rect x="740" y="488" width="1" height="1" fill="#000"/><rect x="751" y="488" width="1" height="1" fill="#000"/><rect x="761" y="488" width="1" height="1" fill="#000"/><rect x="771" y="487" width="1" height="2" fill="#000"/><text x="770.0" y="497" text-anchor="middle" font-size="8.9" font-weight="bold" font-family='"Liberation Sans", sans-serif'>440</text><rect x="781" y="488" width="1" height="1" fill="#000"/><rect x="432.5" y="387.5" width="322" height="12" fill="#fff" stroke="#000" stroke-width="1"/><text x="591.2" y="396.2" text-anchor="middle" font-size="8.9" font-weight="bold" font-family='"Liberation Sans", sans-serif' textLength="201.7" lengthAdjust="spacingAndGlyphs">South Sta-2 Oct-4 Gains vrs Day (Packet 11072)</text></g></svg></body></html>
